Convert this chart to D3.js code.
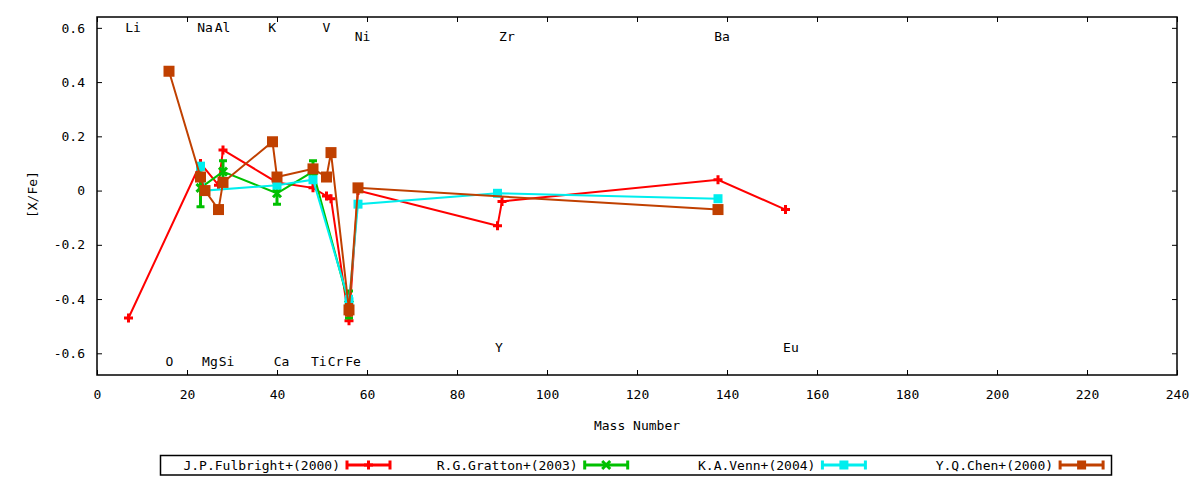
<!DOCTYPE html>
<html>
<head>
<meta charset="utf-8">
<script src="https://cdn.jsdelivr.net/npm/d3@7"></script>
<style>
  body { margin: 0; background: #fff; }
  text { font-family: "DejaVu Sans Mono", monospace; font-size: 13px; fill: #000; }
</style>
</head>
<body>
<div id="chart"></div>
<script>
// J.P.Fulbright+(2000)
var fulbrightMass = [7, 23, 27, 28, 40, 48, 51, 52, 56, 58, 89, 90, 138, 153];
var fulbrightXFe  = [-0.47, 0.10, 0.02, 0.15, 0.03, 0.01, -0.02, -0.03, -0.48, 0.00, -0.13, -0.04, 0.04, -0.07];
var fulbrightErr  = [0, 0, 0, 0, 0, 0, 0, 0, 0, 0, 0, 0, 0, 0];

// R.G.Gratton+(2003)
var grattonMass = [23, 28, 40, 48, 56];
var grattonXFe  = [0.01, 0.07, -0.01, 0.07, -0.42];
var grattonErr  = [0.07, 0.04, 0.04, 0.04, 0.05];

// K.A.Venn+(2004)
var vennMass = [23, 24, 40, 48, 56, 58, 89, 138];
var vennXFe  = [0.09, 0.00, 0.02, 0.04, -0.41, -0.05, -0.01, -0.03];
var vennErr  = [0, 0, 0, 0, 0.02, 0, 0, 0];

// Y.Q.Chen+(2000)
var chenMass = [16, 23, 24, 27, 28, 39, 40, 48, 51, 52, 56, 58, 138];
var chenXFe  = [0.44, 0.05, 0.00, -0.07, 0.03, 0.18, 0.05, 0.08, 0.05, 0.14, -0.44, 0.01, -0.07];
var chenErr  = [0, 0, 0, 0, 0, 0, 0, 0, 0, 0, 0.02, 0, 0];

// element labels (position in data units)
var elemNames = ["Li", "Na", "Al", "K", "V", "Ni", "Zr", "Ba", "O", "Mg", "Si", "Ca", "Ti", "Cr", "Fe", "Y", "Eu"];
var elemX     = [8, 24, 27.9, 38.9, 51, 59, 91.1, 138.9, 16.1, 25.1, 28.8, 41, 49.3, 53, 56.9, 89.3, 154.2];
var elemY     = [0.6, 0.6, 0.6, 0.6, 0.6, 0.57, 0.57, 0.57, -0.63, -0.63, -0.63, -0.63, -0.63, -0.63, -0.63, -0.58, -0.58];

// tick values
var xTicks = [0, 20, 40, 60, 80, 100, 120, 140, 160, 180, 200, 220, 240];
var yTicks = [-0.6, -0.4, -0.2, 0, 0.2, 0.4, 0.6];

var seriesNames = ["J.P.Fulbright+(2000)", "R.G.Gratton+(2003)", "K.A.Venn+(2004)", "Y.Q.Chen+(2000)"];
var seriesColors = ["#ff0000", "#00c000", "#00eeee", "#c04000"];
var seriesMarkers = ["plus", "cross", "square", "bigsquare"];

var series = [
  { mass: fulbrightMass, xfe: fulbrightXFe, err: fulbrightErr },
  { mass: grattonMass, xfe: grattonXFe, err: grattonErr },
  { mass: vennMass, xfe: vennXFe, err: vennErr },
  { mass: chenMass, xfe: chenXFe, err: chenErr }
].map(function (s, i) {
  s.name = seriesNames[i];
  s.color = seriesColors[i];
  s.marker = seriesMarkers[i];
  s.points = s.mass.map(function (m, j) { return { m: m, v: s.xfe[j], e: s.err[j] }; });
  return s;
});

var margin = { top: 17, right: 23, bottom: 105, left: 97 };
var width = 1200 - margin.left - margin.right;
var height = 480 - margin.top - margin.bottom;

var svgRoot = d3.select("#chart").append("svg")
  .attr("width", 1200)
  .attr("height", 480);

var svg = svgRoot.append("g")
  .attr("transform", "translate(" + margin.left + "," + margin.top + ")");

var xScale = d3.scaleLinear().domain([0, 240]).range([0, width]);
var yScale = d3.scaleLinear().domain([-0.68, 0.64]).range([height, 0]);

var yFormat = function (d) { return String(+d.toFixed(1)); };

// axes with inward ticks, mirrored on top and right
var xAxis = svg.append("g")
  .attr("transform", "translate(0," + height + ")")
  .call(d3.axisBottom(xScale).tickValues(xTicks).tickSizeInner(-5).tickSizeOuter(0).tickPadding(15));
var xAxisTop = svg.append("g")
  .call(d3.axisTop(xScale).tickValues(xTicks).tickSizeInner(-5).tickSizeOuter(0).tickFormat(""));
var yAxis = svg.append("g")
  .call(d3.axisLeft(yScale).tickValues(yTicks).tickSizeInner(-5).tickSizeOuter(0).tickPadding(12).tickFormat(yFormat));
var yAxisRight = svg.append("g")
  .attr("transform", "translate(" + width + ",0)")
  .call(d3.axisRight(yScale).tickValues(yTicks).tickSizeInner(-5).tickSizeOuter(0).tickFormat(""));

[xAxis, xAxisTop, yAxis, yAxisRight].forEach(function (a) {
  a.select(".domain").remove();
  a.selectAll("line").attr("stroke", "#000").attr("stroke-width", 1);
  a.selectAll("text")
    .attr("fill", "#000")
    .style("font-family", "'DejaVu Sans Mono', monospace")
    .style("font-size", "13px");
});

// frame
svg.append("rect")
  .attr("x", 0).attr("y", 0)
  .attr("width", width).attr("height", height)
  .attr("fill", "none")
  .attr("stroke", "#000")
  .attr("stroke-width", 1.5);

// axis titles
svgRoot.append("text")
  .attr("transform", "translate(32," + (margin.top + yScale(0) + 4) + ") rotate(-90)")
  .attr("text-anchor", "middle")
  .attr("dy", "0.35em")
  .text("[X/Fe]");

svgRoot.append("text")
  .attr("x", margin.left + width / 2)
  .attr("y", 425)
  .attr("text-anchor", "middle")
  .attr("dy", "0.35em")
  .text("Mass Number");

// element labels
svg.selectAll("text.elem")
  .data(elemNames)
  .enter().append("text")
  .attr("class", "elem")
  .attr("x", function (d, i) { return xScale(elemX[i]); })
  .attr("y", function (d, i) { return yScale(elemY[i]); })
  .attr("text-anchor", "middle")
  .attr("dy", "0.35em")
  .text(function (d) { return d; });

// draw a marker of the given type into a group
function drawMarker(g, type, color) {
  if (type === "plus") {
    g.append("path").attr("d", "M-4.5,0H4.5M0,-4.5V4.5")
      .attr("stroke", color).attr("stroke-width", 3).attr("fill", "none");
  } else if (type === "cross") {
    g.append("path").attr("d", "M-4,-4L4,4M-4,4L4,-4")
      .attr("stroke", color).attr("stroke-width", 3).attr("fill", "none");
  } else {
    var s = (type === "bigsquare") ? 11 : 9;
    g.append("rect").attr("x", -s / 2).attr("y", -s / 2)
      .attr("width", s).attr("height", s).attr("fill", color);
  }
}

var line = d3.line()
  .x(function (d) { return xScale(d.m); })
  .y(function (d) { return yScale(d.v); });

var plotArea = svg.append("g");

series.forEach(function (s) {
  var g = plotArea.append("g");

  g.append("path")
    .datum(s.points)
    .attr("fill", "none")
    .attr("stroke", s.color)
    .attr("stroke-width", 2)
    .attr("d", line);

  // error bars
  s.points.filter(function (p) { return p.e > 0; }).forEach(function (p) {
    var x = xScale(p.m);
    var y1 = yScale(p.v + p.e);
    var y2 = yScale(p.v - p.e);
    g.append("path")
      .attr("d", "M" + x + "," + y1 + "V" + y2 +
        "M" + (x - 4) + "," + y1 + "H" + (x + 4) +
        "M" + (x - 4) + "," + y2 + "H" + (x + 4))
      .attr("stroke", s.color)
      .attr("stroke-width", 3)
      .attr("fill", "none");
  });

  s.points.forEach(function (p) {
    var mg = g.append("g")
      .attr("transform", "translate(" + xScale(p.m) + "," + yScale(p.v) + ")");
    drawMarker(mg, s.marker, s.color);
  });
});

// legend
var legend = svgRoot.append("g");
legend.append("rect")
  .attr("x", 160.5).attr("y", 455.5)
  .attr("width", 951).attr("height", 19.5)
  .attr("fill", "none")
  .attr("stroke", "#000")
  .attr("stroke-width", 1.5);

series.forEach(function (s, i) {
  var x0 = 347 + i * 237.7;
  var x1 = x0 + 43;
  var cy = 465;
  var lg = legend.append("g");
  lg.append("text")
    .attr("x", x0 - 7)
    .attr("y", cy)
    .attr("dy", "0.35em")
    .attr("text-anchor", "end")
    .text(s.name);
  lg.append("path")
    .attr("d", "M" + x0 + "," + cy + "H" + x1 +
      "M" + x0 + "," + (cy - 4.5) + "V" + (cy + 4.5) +
      "M" + x1 + "," + (cy - 4.5) + "V" + (cy + 4.5))
    .attr("stroke", s.color)
    .attr("stroke-width", 3)
    .attr("fill", "none");
  var mg = lg.append("g").attr("transform", "translate(" + ((x0 + x1) / 2) + "," + cy + ")");
  drawMarker(mg, s.marker === "bigsquare" ? "square" : s.marker, s.color);
});
</script>
</body>
</html>
